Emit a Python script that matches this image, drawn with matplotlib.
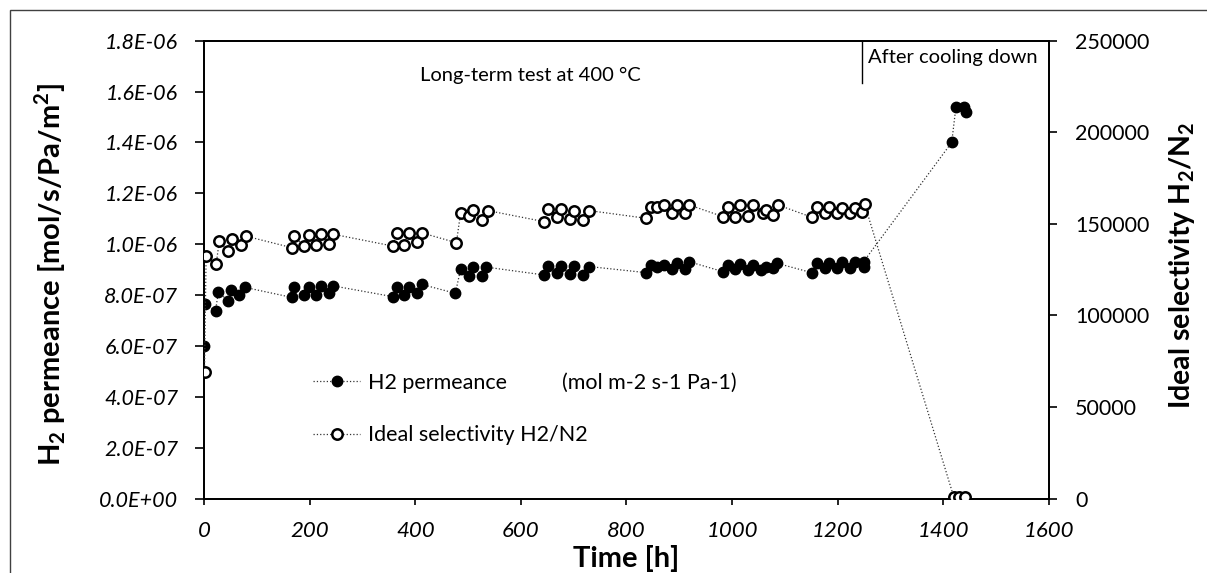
import matplotlib
matplotlib.use("Agg")
import matplotlib.pyplot as plt
from matplotlib.patches import Rectangle
from matplotlib.lines import Line2D

plt.rcParams["font.family"] = ["Lato", "DejaVu Sans"]
plt.rcParams["mathtext.fontset"] = "custom"
plt.rcParams["mathtext.rm"] = "Lato"
plt.rcParams["mathtext.bf"] = "Lato:bold"

# H2 permeance (mol m-2 s-1 Pa-1) vs time [h]
t_perm = [0, 1, 22, 27, 46, 52, 67, 78,
          166, 171, 189, 198, 213, 221, 237, 245,
          357, 365, 379, 388, 403, 412,
          476, 486, 502, 510, 526, 534,
          644, 652, 668, 676, 693, 700, 717, 730,
          838, 846, 857, 871, 886, 895, 911, 919,
          983, 992, 1005, 1015, 1030, 1040, 1055, 1065, 1078, 1085,
          1151, 1160, 1176, 1183, 1198, 1208, 1224, 1233, 1249, 1249,
          1416, 1424, 1439, 1443]
perm = [6.00e-07, 7.64e-07, 7.39e-07, 8.11e-07, 7.78e-07, 8.20e-07, 8.00e-07, 8.30e-07,
        7.91e-07, 8.31e-07, 8.00e-07, 8.31e-07, 8.00e-07, 8.36e-07, 8.07e-07, 8.36e-07,
        7.94e-07, 8.33e-07, 8.00e-07, 8.33e-07, 8.09e-07, 8.42e-07,
        8.07e-07, 9.02e-07, 8.76e-07, 9.12e-07, 8.76e-07, 9.10e-07,
        8.79e-07, 9.14e-07, 8.88e-07, 9.14e-07, 8.83e-07, 9.14e-07, 8.79e-07, 9.12e-07,
        8.88e-07, 9.18e-07, 9.12e-07, 9.18e-07, 9.01e-07, 9.27e-07, 9.01e-07, 9.31e-07,
        8.92e-07, 9.18e-07, 9.01e-07, 9.22e-07, 8.99e-07, 9.18e-07, 8.99e-07, 9.12e-07, 9.05e-07, 9.25e-07,
        8.88e-07, 9.25e-07, 9.05e-07, 9.27e-07, 9.05e-07, 9.31e-07, 9.05e-07, 9.31e-07, 9.12e-07, 9.31e-07,
        1.40e-06, 1.54e-06, 1.54e-06, 1.52e-06]

# Ideal selectivity H2/N2 vs time [h]
t_sel = [1, 4, 23, 29, 46, 54, 70, 79,
         166, 171, 189, 198, 213, 221, 237, 245,
         357, 365, 379, 388, 403, 412,
         478, 486, 502, 510, 526, 538,
         644, 652, 668, 676, 693, 700, 717, 730,
         838, 846, 857, 871, 886, 895, 911, 919,
         983, 992, 1005, 1015, 1030, 1040, 1058, 1065, 1078, 1087,
         1151, 1160, 1176, 1183, 1198, 1208, 1224, 1233, 1246, 1251,
         1420, 1430, 1442]
sel = [68900, 132400, 127900, 140600, 135100, 141500, 138400, 143300,
       137000, 143300, 137900, 143900, 138400, 144300, 139000, 144300,
       137900, 144800, 138400, 144800, 139900, 145100,
       139700, 156100, 154300, 157500, 152100, 157200,
       151200, 157900, 153900, 157900, 152500, 157200, 152100, 157200,
       153000, 159000, 159000, 160300, 155700, 160300, 155700, 160300,
       153900, 159300, 153900, 160300, 154300, 160300, 155700, 157500, 154800, 160300,
       153600, 159300, 155700, 159000, 156100, 158500, 156100, 158500, 156600, 160800,
       800, 800, 800]

perm_ticks = [i * 2e-7 for i in range(10)]
sel_ticks = [0, 50000, 100000, 150000, 200000, 250000]
time_ticks = [0, 200, 400, 600, 800, 1000, 1200, 1400, 1600]

fig = plt.figure(figsize=(12.07, 5.73), dpi=100)
ax = fig.add_axes([0.169, 0.1298, 0.7, 0.7993])
ax2 = ax.twinx()

# outer chart border
fig.patches.append(Rectangle((10 / 1207, -0.1), 1.2, 1.1 - 10 / 573,
                             transform=fig.transFigure, fill=False,
                             edgecolor="#404040", linewidth=1.0))

ax.plot(t_perm, perm, linestyle=":", color="#333333", linewidth=0.9,
        marker="o", markersize=7.5, markerfacecolor="black",
        markeredgecolor="black", zorder=3)
ax2.plot(t_sel, sel, linestyle=":", color="#333333", linewidth=0.9,
         marker="o", markersize=7.5, markerfacecolor="white",
         markeredgecolor="black", markeredgewidth=1.8, zorder=3)

ax.set_xlim(0, 1600)
ax.set_ylim(0, 1.8e-6)
ax2.set_ylim(0, 250000)
ax.set_xticks(time_ticks)
ax.set_xticklabels([str(v) for v in time_ticks], fontstyle="italic", fontsize=16)
ax.set_yticks(perm_ticks)
ax.set_yticklabels(["{:.1E}".format(v) for v in perm_ticks],
                   fontstyle="italic", fontsize=15.5)
ax2.set_yticks(sel_ticks)
ax2.set_yticklabels([str(v) for v in sel_ticks], fontsize=15.5)

for a in (ax, ax2):
    for s in a.spines.values():
        s.set_linewidth(1.3)
ax.tick_params(axis="x", direction="out", length=4, width=1.2, pad=12)
ax.tick_params(axis="y", direction="out", length=6.5, width=1.2, pad=12)
ax2.tick_params(axis="y", direction="out", length=6, width=1.2, pad=13)

ax.set_xlabel("Time [h]", fontsize=21, fontweight="bold", labelpad=3)
ax.set_ylabel(r"H$_\mathbf{2}$ permeance [mol/s/Pa/m$^\mathbf{2}$]",
              fontsize=21, fontweight="bold")
ax.yaxis.label.set_va("center")
ax.yaxis.set_label_coords(-0.182, 0.49)
ax2.set_ylabel(r"Ideal selectivity H$_\mathbf{2}$/N$_\mathbf{2}$",
               fontsize=20.5, fontweight="bold")
ax2.yaxis.label.set_va("center")
ax2.yaxis.set_label_coords(1.158, 0.51)

ax.text(0.386, 0.925, "Long-term test at 400 °C", transform=ax.transAxes,
        fontsize=14.5, ha="center", va="center")
ax.axvline(1246, ymin=0.908, ymax=1.0, color="black", linewidth=1.0)
ax.text(1257, 1.735e-6, "After cooling down", fontsize=14.5, ha="left", va="center")

handles = [
    Line2D([], [], linestyle=":", color="#333333", linewidth=0.9, marker="o",
           markersize=7.5, markerfacecolor="black", markeredgecolor="black"),
    Line2D([], [], linestyle=":", color="#333333", linewidth=0.9, marker="o",
           markersize=7.5, markerfacecolor="white", markeredgecolor="black",
           markeredgewidth=1.8),
]
labels = ["H2 permeance" + " " * 10 + "(mol m-2 s-1 Pa-1)", "Ideal selectivity H2/N2"]
ax2.legend(handles, labels, loc="upper left", bbox_to_anchor=(0.106, 0.318),
           frameon=False, fontsize=15.5, labelspacing=1.5, handlelength=2.2,
           handletextpad=0.37)

fig.savefig("out.png", dpi=100)
